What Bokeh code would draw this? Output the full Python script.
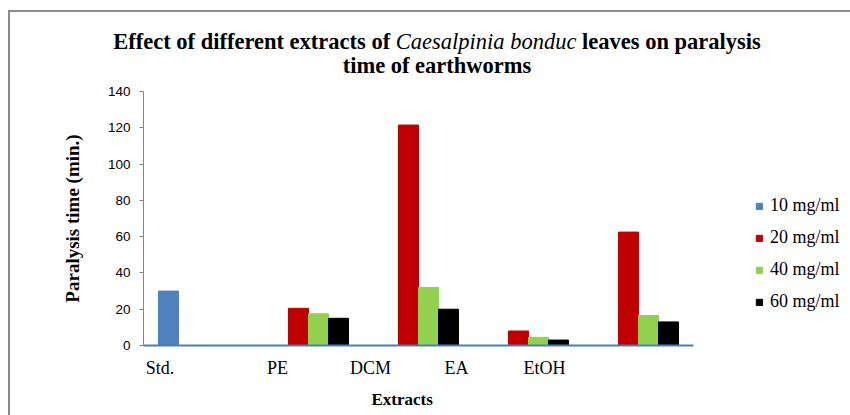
from bokeh.plotting import figure
from bokeh.models import ColumnDataSource, FixedTicker, Legend, LegendItem, Div, Title
from bokeh.layouts import column
from bokeh.transform import dodge
from bokeh.embed import file_html
from bokeh.resources import INLINE

extracts = ["Std.", "PE", "DCM", "EA", "EtOH"]
series = ["10 mg/ml", "20 mg/ml", "40 mg/ml", "60 mg/ml"]
v10 = [30, 0, 0, 0, 0]
v20 = [0, 20.5, 121.5, 8, 62.5]
v40 = [0, 17.5, 32, 4.5, 16.5]
v60 = [0, 15, 20, 3, 13]
y_ticks = [0, 20, 40, 60, 80, 100, 120, 140]
colors = ["#4F81BD", "#C00000", "#92D050", "#000000"]
# where the category labels sit along the axis (as in the original figure)
label_pos = [-0.35, 0.718, 1.564, 2.345, 3.145]

src = ColumnDataSource(dict(idx=list(range(len(extracts))), v10=v10, v20=v20, v40=v40, v60=v60))

title_html = (
    '<div style="width:826px; margin-left:14px; padding-top:18px; text-align:center; '
    'font-family:Liberation Serif, Times New Roman, serif; font-size:22.5px; line-height:24px; '
    'font-weight:bold; color:#000;">'
    'Effect of different extracts of <i style="font-weight:normal; font-family:Liberation Serif, serif;">'
    'Caesalpinia bonduc</i> leaves on paralysis<br>time of earthworms</div>'
)
title = Div(text=title_html, width=840, height=70, margin=0,
            styles={"font-family": "Liberation Serif, serif"})

p = figure(width=840, height=333, output_backend="svg", toolbar_location=None,
           x_range=(-0.5, 5.927), y_range=(0, 140),
           min_border_left=133, min_border_right=0, min_border_top=9, min_border_bottom=68)
p.margin = 0
p.outline_line_color = None
p.grid.visible = False

bw = 0.1818
offs = [-1.5 * bw, -0.5 * bw, 0.5 * bw, 1.5 * bw]
cols = ["v10", "v20", "v40", "v60"]
rends = []
for c, o, col in zip(cols, offs, colors):
    r = p.vbar(x=dodge("idx", o, range=p.x_range), top=c, width=bw, bottom=0, source=src,
               fill_color=col, line_color=col)
    rends.append(r)

xa = p.xaxis[0]
xa.bounds = (-0.5, 4.5)
xa.ticker = FixedTicker(ticks=label_pos)
xa.major_label_overrides = {lp: t for lp, t in zip(label_pos, extracts)}
xa.major_tick_line_color = None
xa.minor_tick_line_color = None
xa.axis_line_color = "#4A7EBB"
xa.axis_line_width = 2
xa.major_label_text_font = "Liberation Serif"
xa.major_label_text_font_size = "18px"
xa.major_label_text_color = "#000000"
xa.major_label_standoff = 6

p.add_layout(Title(text="Extracts", align="left", offset=228, standoff=14,
                   text_font="Liberation Serif", text_font_style="bold",
                   text_font_size="17px", text_color="#000000"), "below")

ya = p.yaxis[0]
ya.ticker = FixedTicker(ticks=y_ticks)
ya.minor_tick_line_color = None
ya.axis_line_color = "#868686"
ya.major_tick_line_color = "#868686"
ya.major_tick_out = 4
ya.major_tick_in = 0
ya.major_label_text_font = "Liberation Sans"
ya.major_label_text_font_size = "13.5px"
ya.major_label_text_color = "#000000"
ya.major_label_standoff = 9
ya.axis_label = "Paralysis time (min.)"
ya.axis_label_text_font = "Liberation Serif"
ya.axis_label_text_font_style = "bold"
ya.axis_label_text_font_size = "19px"
ya.axis_label_text_color = "#000000"
ya.axis_label_standoff = 22

legend = Legend(items=[LegendItem(label=s, renderers=[r]) for s, r in zip(series, rends)],
                location=(612, 33), glyph_width=8, glyph_height=8, label_height=20, spacing=11,
                label_standoff=7, padding=0, margin=0, border_line_color=None,
                background_fill_alpha=0, label_text_font="Liberation Serif",
                label_text_font_size="18px", label_text_color="#000000")
p.add_layout(legend, "center")

layout = column(title, p, spacing=0)
layout.styles = {"margin-left": "8px", "margin-top": "10px",
                 "border-left": "2px solid #8c8c8c", "border-top": "2px solid #8c8c8c"}

open("out.html", "w").write(file_html(layout, INLINE))
